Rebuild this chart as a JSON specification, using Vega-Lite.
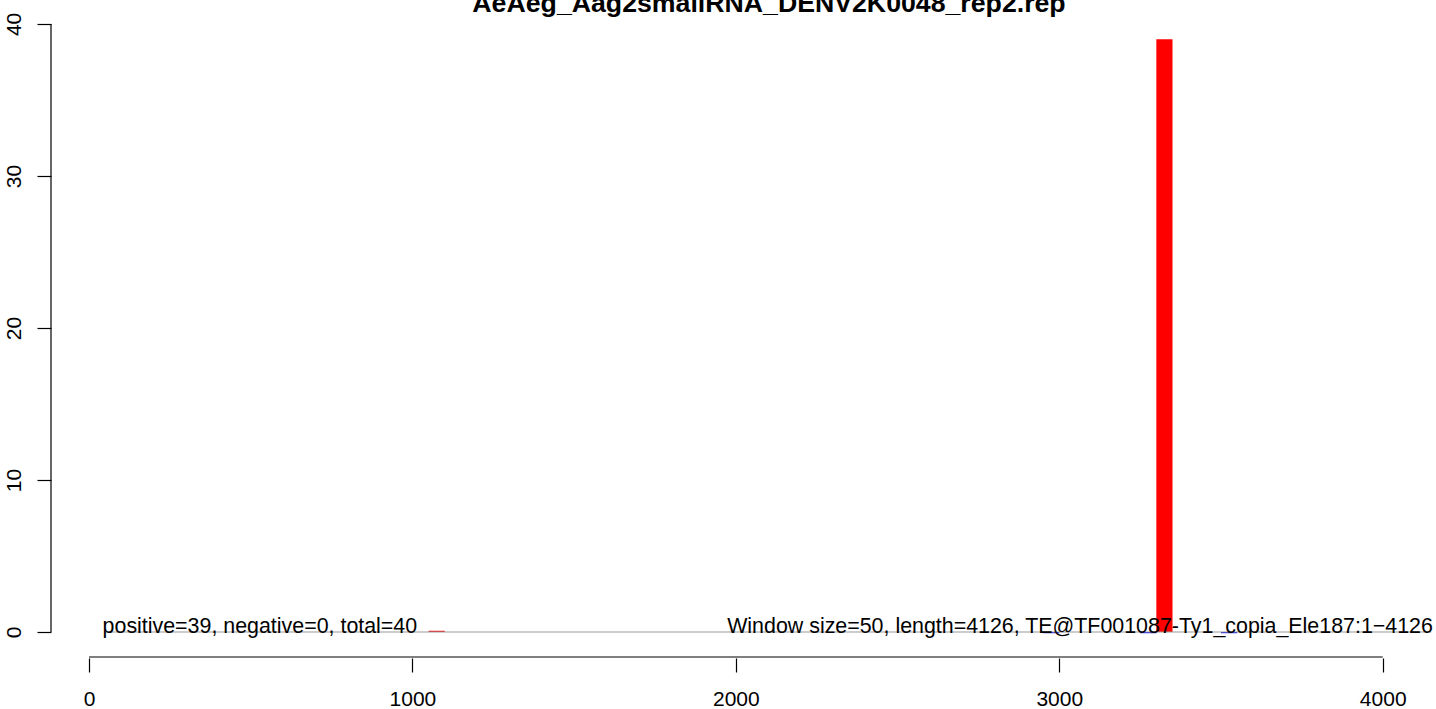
{
  "$schema": "https://vega.github.io/schema/vega-lite/v6.json",
  "width": 1385,
  "height": 637,
  "autosize": {"type": "none"},
  "padding": {"left": 51, "top": 20, "right": 0, "bottom": 52},
  "background": "white",
  "config": {"view": {"stroke": null}, "font": "Liberation Sans"},
  "title": {
    "text": "AeAeg_Aag2smallRNA_DENV2K0048_rep2.rep",
    "font": "Liberation Sans",
    "fontSize": 26.7,
    "fontWeight": "bold",
    "color": "black",
    "anchor": "middle",
    "dx": 25.5,
    "dy": 30,
    "baseline": "alphabetic",
    "offset": 4
  },
  "datasets": {
    "bars": [
      {"start": 1050, "end": 1100, "value": 0.08, "strand": "positive"},
      {"start": 3300, "end": 3350, "value": 39, "strand": "positive"},
      {"start": 2950, "end": 3000, "value": -0.08, "strand": "negative"},
      {"start": 3250, "end": 3300, "value": -0.08, "strand": "negative"},
      {"start": 3500, "end": 3550, "value": -0.08, "strand": "negative"}
    ],
    "baseline": [{"from": 50, "to": 4150, "level": 0}],
    "xaxisline": [{"from": 0, "to": 4000, "level": -1.645}],
    "yaxisline": [{"pos": -117.5, "from": 0, "to": 40}],
    "lefttext": [{"pos": 42, "level": 0, "label": "positive=39, negative=0, total=40"}],
    "righttext": [{"pos": 4155, "level": 0, "label": "Window size=50, length=4126, TE@TF001087-Ty1_copia_Ele187:1\u22124126"}]
  },
  "layer": [
    {
      "data": {"name": "bars"},
      "mark": {"type": "rect"},
      "encoding": {
        "x": {
          "field": "start", "type": "quantitative",
          "scale": {"domain": [-117.5, 4164.7], "nice": false, "zero": false},
          "axis": {
            "orient": "bottom", "values": [0, 1000, 2000, 3000, 4000],
            "domain": false, "grid": false, "title": null,
            "tickSize": 14, "tickColor": "black", "tickWidth": 1.2,
            "labelFont": "Liberation Sans", "labelFontSize": 21, "labelColor": "black",
            "labelBaseline": "alphabetic", "labelPadding": 33, "offset": 1,
            "labelFlush": false, "labelOverlap": false, "format": "d"
          }
        },
        "x2": {"field": "end"},
        "y": {
          "field": "value", "type": "quantitative",
          "scale": {"domain": [-1.645, 40.26], "nice": false, "zero": false},
          "axis": {
            "orient": "left", "values": [0, 10, 20, 30, 40],
            "domain": false, "grid": false, "title": null,
            "tickSize": 14, "tickColor": "black", "tickWidth": 1.2,
            "labelFont": "Liberation Sans", "labelFontSize": 21, "labelColor": "black",
            "labelAngle": -90, "labelAlign": "center", "labelBaseline": "alphabetic",
            "labelPadding": 17, "labelFlush": false, "labelOverlap": false
          }
        },
        "y2": {"datum": 0},
        "color": {
          "field": "strand", "type": "nominal",
          "scale": {"domain": ["positive", "negative"], "range": ["#FF0000", "#0000FF"]},
          "legend": null
        }
      }
    },
    {
      "data": {"name": "baseline"},
      "mark": {"type": "rule", "color": "#9a9a9a", "strokeWidth": 1.2},
      "encoding": {
        "x": {"field": "from", "type": "quantitative"},
        "x2": {"field": "to"},
        "y": {"field": "level", "type": "quantitative"}
      }
    },
    {
      "data": {"name": "xaxisline"},
      "mark": {"type": "rule", "color": "black", "strokeWidth": 1.2},
      "encoding": {
        "x": {"field": "from", "type": "quantitative"},
        "x2": {"field": "to"},
        "y": {"field": "level", "type": "quantitative"}
      }
    },
    {
      "data": {"name": "yaxisline"},
      "mark": {"type": "rule", "color": "black", "strokeWidth": 1.2},
      "encoding": {
        "x": {"field": "pos", "type": "quantitative"},
        "y": {"field": "from", "type": "quantitative"},
        "y2": {"field": "to"}
      }
    },
    {
      "data": {"name": "lefttext"},
      "mark": {"type": "text", "align": "left", "baseline": "alphabetic", "font": "Liberation Sans", "fontSize": 21.4, "color": "black", "dy": 1},
      "encoding": {
        "x": {"field": "pos", "type": "quantitative"},
        "y": {"field": "level", "type": "quantitative"},
        "text": {"field": "label"}
      }
    },
    {
      "data": {"name": "righttext"},
      "mark": {"type": "text", "align": "right", "baseline": "alphabetic", "font": "Liberation Sans", "fontSize": 21.4, "color": "black", "dy": 1},
      "encoding": {
        "x": {"field": "pos", "type": "quantitative"},
        "y": {"field": "level", "type": "quantitative"},
        "text": {"field": "label"}
      }
    }
  ]
}
